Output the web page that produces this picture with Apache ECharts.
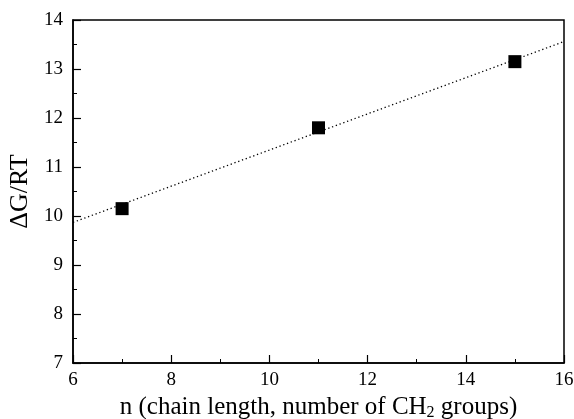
<!DOCTYPE html>
<html>
<head>
<meta charset="utf-8">
<script src="https://cdn.jsdelivr.net/npm/echarts@6/dist/echarts.min.js"></script>
<style>
  html, body { margin: 0; padding: 0; background: #fff; }
  #chart { width: 574px; height: 419px; }
</style>
</head>
<body>
<div id="chart"></div>
<script>
// measured points
var chainLength = [7, 11, 15];
var dGRT = [10.15, 11.8, 13.15];

// dotted linear fit, read at the plot edges
var fitX = [6, 16];
var fitY = [9.87, 13.56];

var xTicks = [6, 8, 10, 12, 14, 16];
var yTicks = [7, 8, 9, 10, 11, 12, 13, 14];

var chart = echarts.init(document.getElementById('chart'));

var font = '"Liberation Serif", "DejaVu Serif", serif';

var option = {
    animation: false,
    backgroundColor: '#fff',
    grid: {
        left: 73, top: 20, right: 10, bottom: 56,
        outerBoundsMode: 'none',
        show: true, borderColor: '#000', borderWidth: 1.5
    },
    xAxis: {
        type: 'value',
        min: xTicks[0], max: xTicks[xTicks.length - 1], interval: 2,
        name: 'n (chain length, number of CH{sub|2} groups)',
        nameLocation: 'middle', nameGap: 27,
        nameTextStyle: {
            fontFamily: font, fontSize: 25, color: '#000', lineHeight: 26,
            rich: { sub: { fontFamily: font, fontSize: 16, lineHeight: 26, verticalAlign: 'bottom', padding: [8, 0, 0, 0] } }
        },
        axisLine: { lineStyle: { color: '#000', width: 1.5 } },
        axisTick: { inside: true, length: 8, lineStyle: { color: '#000', width: 1.2 } },
        minorTick: { show: true, splitNumber: 2, length: 4, lineStyle: { color: '#000', width: 1 } },
        axisLabel: { fontFamily: font, fontSize: 19, color: '#000', margin: 8 },
        splitLine: { show: false }
    },
    yAxis: {
        type: 'value',
        min: yTicks[0], max: yTicks[yTicks.length - 1], interval: 1,
        name: 'ΔG/RT',
        nameLocation: 'middle', nameGap: 35,
        nameTextStyle: { fontFamily: font, fontSize: 26, color: '#000' },
        axisLine: { lineStyle: { color: '#000', width: 1.5 } },
        axisTick: { inside: true, length: 8, lineStyle: { color: '#000', width: 1.2 } },
        minorTick: { show: true, splitNumber: 2, length: 4, lineStyle: { color: '#000', width: 1 } },
        axisLabel: { fontFamily: font, fontSize: 19, color: '#000', margin: 10 },
        splitLine: { show: false }
    },
    series: [{
        type: 'line',
        data: fitX.map(function (x, i) { return [x, fitY[i]]; }),
        symbol: 'none',
        lineStyle: { color: '#000', width: 1.3, type: [1.3, 2.7] },
        z: 2
    }, {
        type: 'scatter',
        data: chainLength.map(function (x, i) { return [x, dGRT[i]]; }),
        symbol: 'rect',
        symbolSize: 13,
        itemStyle: { color: '#000', opacity: 1 },
        z: 3
    }]
};

chart.setOption(option);
</script>
</body>
</html>
